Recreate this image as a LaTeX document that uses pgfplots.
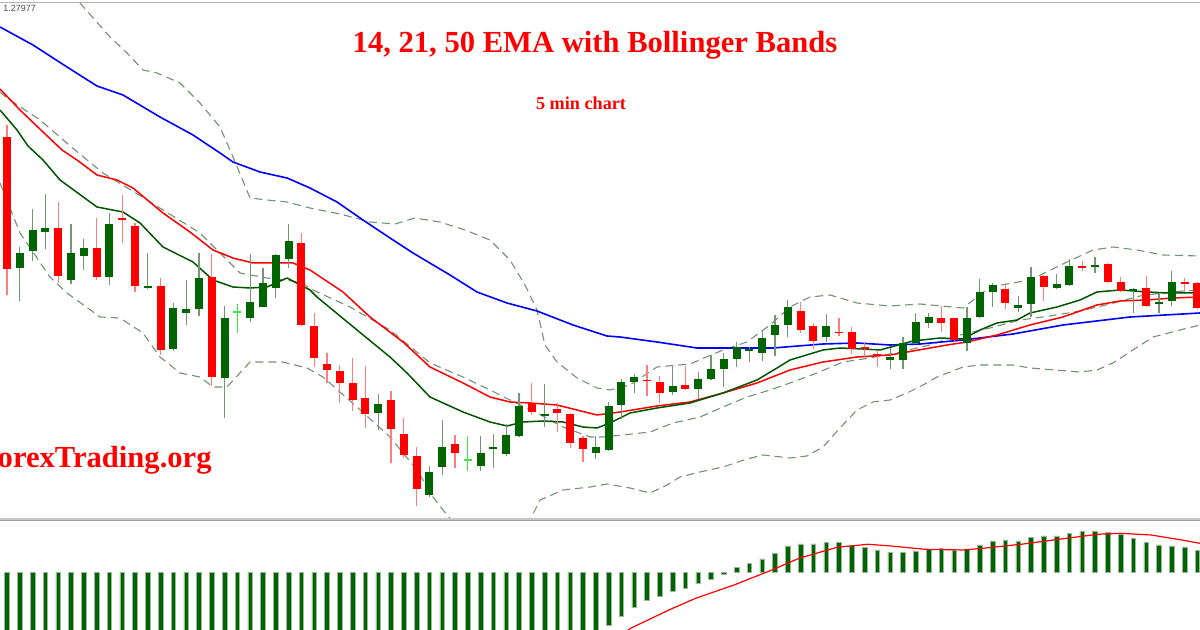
\documentclass[border=0pt]{standalone}
\usepackage{pgfplots}
\pgfplotsset{compat=1.18}
\usepackage{pgfplotstable}
\usepackage{fontspec}
\setmainfont{Liberation Serif}
\newfontfamily\labelfont{Liberation Sans}
\definecolor{bullG}{RGB}{0,100,0}
\definecolor{bearR}{RGB}{255,0,0}
\definecolor{wickG}{RGB}{115,150,115}
\definecolor{wickR}{RGB}{255,125,125}
\definecolor{band}{RGB}{115,145,115}
\definecolor{limeG}{RGB}{70,225,70}
\definecolor{emaB}{RGB}{0,0,255}
\definecolor{emaG}{RGB}{0,85,0}

% candles: x, wick top, body top, body bottom, wick bottom (pixel rows, top = 0)
\pgfplotstableread{
x wt bt bb wb
19.8 247 253 268 301
32.6 209 230 251 261
45.4 194 228 232 249
71.0 224 253 280 284
83.8 239 248 256 270
109.4 213 224 277 285
147.8 253 286 288 289
173.4 303 308 349 351
186.2 280 309 313 325
199.0 253 278 309 316
224.6 306 318 378 418
250.2 254 302 318 322
263.0 268 283 307 307
275.8 254 255 288 298
288.6 224 241 259 268
378.2 394 404 413 430
429.4 466 472 495 497
442.2 420 447 467 475
480.6 436 453 466 471
493.4 434 447.5 448.5 468
506.2 424 435 454 456
519.0 393 406 436 437
544.6 384 414 416 427
595.8 436 447 453 459
608.6 402 406 450 451
621.4 379 382 405 419
634.2 374 377 382 393
672.6 365 386 392 395
698.2 372 379 389 399
711.0 355 369 379 380
723.8 353 359 369 387
736.6 342 347 359 367
749.4 347 349 351 362
762.2 331 338 353 361
775.0 315 325 335 356
787.8 300 307 325 337
826.2 314 326 337 342
890.2 348 357 360 369
903.0 337 343 360 369
915.8 313 322 343 344
928.6 313 317 323 328
967.0 307 318 343 351
979.8 279 292 317 318
992.6 283 285 292 307
1018.2 296 305 308 312
1031.0 267 277 304 317
1056.6 274 284 288 289
1069.4 259 266 285 286
1095.0 257 265.5 266.5 273
1133.4 288 289 291 313
1159.0 293 302 304 313
1171.8 271 282 301 306
}\bull

\pgfplotstableread{
x wt bt bb wb
7.0 125 137 269 295
58.2 202 228 276 283
96.6 218 248 277 280
122.2 195 218 220 243
135.0 223 226 286 292
160.6 278 286 350 355
211.8 254 277 377 386
301.4 233 243 325 326
314.2 313 326 358 367
327.0 353 364 370 383
339.8 365 371 383 403
352.6 358 383 400 411
365.4 366 398 414 428
391.0 391 400 429 463
403.8 418 434 455 458
416.6 447 456 489 506
455.0 435 444 453 468
531.8 383 403 412 415
557.4 403 409 413 432
570.2 413 414 443 448
583.0 436 438 449 462
647.0 365 380 381 396
659.8 376 382 393 403
685.4 366 385 389 390
800.6 302 311 330 333
813.4 323 326 341 349
839.0 318 332 333 336
851.8 327 332 349 354
864.6 343 347.5 348.5 358
877.4 350 354 356 367
941.4 306 318 323 332
954.2 318 318 340 341
1005.4 283 289 303 309
1043.8 275 276 287 301
1082.2 261 266.5 267.5 271
1107.8 263 264 282 283
1120.6 277 282 291 292
1146.2 276 288 306 307
1184.6 278 282.5 283.5 292
1197.4 282 283 308 309
}\bear

\pgfplotstableread{
x wt bt bb wb
237.4 304 311.5 312.5 333
467.8 436 459.5 460.5 471
}\doji

\pgfplotstableread{
x v
7.0 -80
19.8 -82
32.6 -84
45.4 -85
58.2 -86
71.0 -87
83.8 -88
96.6 -89
109.4 -90
122.2 -91
135.0 -92
147.8 -92
160.6 -93
173.4 -94
186.2 -95
199.0 -96
211.8 -97
224.6 -98
237.4 -98
250.2 -97
263.0 -96
275.8 -95
288.6 -94
301.4 -95
314.2 -97
327.0 -99
339.8 -100
352.6 -101
365.4 -102
378.2 -102
391.0 -103
403.8 -104
416.6 -106
429.4 -105
442.2 -103
455.0 -101
467.8 -99
480.6 -97
493.4 -95
506.2 -92
519.0 -88
531.8 -85
544.6 -82
557.4 -79
570.2 -76
583.0 -72
595.8 -66
608.6 -52.3
621.4 -44
634.2 -35
647.0 -28
659.8 -24
672.6 -19
685.4 -15.6
698.2 -10.6
711.0 -6.3
723.8 -1.6
736.6 5.4
749.4 9.4
762.2 13.7
775.0 19.4
787.8 26.7
800.6 28.7
813.4 28.7
826.2 30
839.0 30
851.8 27
864.6 25
877.4 22.7
890.2 20
903.0 20
915.8 21.7
928.6 23.4
941.4 24.4
954.2 22
967.0 23.7
979.8 27.7
992.6 31.7
1005.4 32.7
1018.2 31.7
1031.0 35.4
1043.8 36.7
1056.6 36.7
1069.4 39.4
1082.2 41
1095.0 41.7
1107.8 40.4
1120.6 38.7
1133.4 34.4
1146.2 30.4
1159.0 27.7
1171.8 26.7
1184.6 25.7
1197.4 22
}\macd

\pgfplotsset{
  wicks/.style={draw=none, mark=none, forget plot,
    error bars/.cd, y dir=both, y explicit, error mark=none,
    error bar style={line width=0.6pt, draw=#1}},
  bodies/.style={draw=none, mark=none, forget plot,
    error bars/.cd, y dir=both, y explicit, error mark=none,
    error bar style={line width=4pt, draw=#1}},
  bandline/.style={band, line width=0.55pt, dash pattern=on 4pt off 2.5pt},
}

\begin{document}
\begin{tikzpicture}
\useasboundingbox (0,0) rectangle (600pt,315pt);
\begin{axis}[at={(0,55pt)}, anchor=south west, width=600pt, height=260pt,
  scale only axis, xmin=0, xmax=1200, ymin=0, ymax=520, y dir=reverse,
  hide axis, clip=true]

% Bollinger bands
\addplot[bandline] coordinates {(50,-40) (80,3) (110,37) (127,53) (143,70) (157,73) (180,83) (200,103) (220,127) (233,157) (250,198) (267,200) (287,202) (310,208) (340,214) (370,222) (395,224) (415,218) (440,222) (465,230) (490,240) (510,260) (525,285) (537,310) (545,345) (557,362) (577,378) (597,388) (610,390) (630,385) (657,367) (690,364) (723,350) (747,342) (770,325) (790,307) (810,297) (830,295) (857,303) (890,306) (920,304) (963,308) (990,287) (1030,280) (1067,262) (1093,250) (1113,247) (1137,250) (1163,255) (1200,256)};
\addplot[bandline] coordinates {(0,92) (7,98) (40,120) (75,150) (103,173) (147,200) (200,233) (217,250) (240,273) (267,278) (300,282) (313,290) (350,307) (390,330) (430,363) (463,377) (490,390) (510,400) (537,413) (563,427) (590,437) (603,437) (623,435) (650,432) (673,423) (700,417) (723,407) (747,397) (770,390) (790,383) (817,373) (843,362) (870,358) (900,352) (930,345) (960,335) (990,328) (1020,320) (1050,316) (1080,311) (1110,304) (1140,296) (1170,292) (1200,290)};
\addplot[bandline] coordinates {(0,183) (20,233) (50,277) (67,293) (100,317) (120,318) (143,333) (160,357) (180,373) (200,377) (213,387) (227,387) (250,362) (283,362) (307,368) (323,377) (357,407) (390,437) (417,470) (433,497) (443,510) (460,530) (495,540) (525,530) (540,500) (563,490) (590,487) (607,484) (630,488) (650,493) (667,485) (680,477) (700,472) (723,467) (747,459) (763,455) (790,458) (807,456) (823,447) (840,428) (857,410) (873,402) (890,400) (907,393) (923,385) (937,377) (963,367) (980,365) (1013,365) (1030,368) (1080,372) (1097,370) (1113,363) (1133,350) (1153,337) (1180,330) (1200,325)};

% EMA 50
\addplot[emaB, line width=0.8pt, line join=round] coordinates {(0,27) (33,45) (67,67) (97,86) (123,95) (160,117) (193,135) (220,153) (233,162) (260,172) (287,178) (310,188) (337,202) (363,220) (390,238) (413,253) (450,275) (477,292) (507,303) (537,311) (573,325) (607,336) (620,337) (657,342) (697,348) (730,348) (773,348) (823,344) (857,343) (890,345) (920,344) (963,340) (1013,334) (1063,325) (1130,317) (1200,313)};
% EMA 21
\addplot[bearR, line width=0.75pt, line join=round] coordinates {(0,89) (20,110) (43,132) (62,150) (77,160) (97,175) (117,180) (133,188) (163,213) (190,232) (213,250) (233,258) (253,263) (277,263) (293,263) (310,270) (343,292) (370,317) (403,342) (430,367) (463,383) (490,397) (510,402) (530,403) (557,405) (577,410) (597,415) (620,412) (657,406) (690,402) (723,393) (757,383) (790,370) (823,362) (857,357) (890,355) (913,351) (947,345) (967,342) (997,335) (1030,325) (1063,317) (1097,305) (1120,301) (1147,300) (1173,298) (1200,297)};
% EMA 14
\addplot[emaG, line width=0.75pt, line join=round] coordinates {(0,110) (17,130) (28,146) (43,160) (60,180) (97,207) (123,212) (140,223) (163,247) (193,262) (213,280) (233,287) (250,288) (267,287) (287,278) (310,290) (317,297) (357,330) (390,357) (407,373) (430,397) (463,412) (490,422) (507,426) (523,422) (543,421) (563,422) (583,427) (597,428) (610,423) (630,413) (657,408) (690,403) (723,393) (757,380) (777,368) (790,360) (823,350) (840,348) (863,349) (880,350) (913,341) (940,338) (963,339) (980,330) (997,323) (1017,320) (1030,313) (1057,307) (1080,300) (1097,292) (1120,290) (1147,292) (1167,293) (1200,293)};

% candles
\addplot[wicks=wickG] table[x=x, y expr={(\thisrow{wt}+\thisrow{wb})/2}, y error expr={(\thisrow{wb}-\thisrow{wt})/2}] {\bull};
\addplot[wicks=wickR] table[x=x, y expr={(\thisrow{wt}+\thisrow{wb})/2}, y error expr={(\thisrow{wb}-\thisrow{wt})/2}] {\bear};
\addplot[wicks=limeG] table[x=x, y expr={(\thisrow{wt}+\thisrow{wb})/2}, y error expr={(\thisrow{wb}-\thisrow{wt})/2}] {\doji};
\addplot[bodies=bullG] table[x=x, y expr={(\thisrow{bt}+\thisrow{bb})/2}, y error expr={(\thisrow{bb}-\thisrow{bt})/2}] {\bull};
\addplot[bodies=bearR] table[x=x, y expr={(\thisrow{bt}+\thisrow{bb})/2}, y error expr={(\thisrow{bb}-\thisrow{bt})/2}] {\bear};
\addplot[bodies=limeG] table[x=x, y expr={(\thisrow{bt}+\thisrow{bb})/2}, y error expr={(\thisrow{bb}-\thisrow{bt})/2}] {\doji};

\node[text=bearR, font=\bfseries\fontsize{15.3}{18}\selectfont] at (axis cs:595,45) {14, 21, 50 EMA with Bollinger Bands};
\node[text=bearR, font=\bfseries\fontsize{9.1}{11}\selectfont] at (axis cs:581,103) {5 min chart};
\node[text=bearR, font=\bfseries\fontsize{15.3}{18}\selectfont, anchor=east, inner sep=0pt] at (axis cs:212,460) {ForexTrading.org};
\node[text=black!70, font=\labelfont\fontsize{4.5}{5}\selectfont, anchor=west, inner sep=0pt] at (axis cs:3,8) {1.27977};
\end{axis}

\begin{axis}[at={(0,0)}, anchor=south west, width=600pt, height=55pt,
  scale only axis, xmin=0, xmax=1200, ymin=-57.3, ymax=52.7,
  hide axis, clip=true]
\addplot[ybar, bar width=2.3pt, bar shift=0pt, fill=bullG, draw=wickG!70, line width=0.25pt] table[x=x, y=v] {\macd};
\addplot[bearR, line width=0.6pt, line join=round] coordinates {(620,-63) (630.6,-55.6) (668.9,-37.3) (695.7,-25.6) (734,-12.3) (772,2.7) (799,14.4) (837,25.4) (868,28.4) (891,26.7) (925,23.4) (963.6,22.7) (982.7,24.4) (1021,28.4) (1059,33.4) (1097.5,38.4) (1120.5,39.4) (1151,37.7) (1181.7,32.7) (1200,29.4)};
\end{axis}

% panel frame lines
\fill[black!38] (0,54.3pt) rectangle (600pt,55.1pt);
\fill[black!22] (0,55.1pt) rectangle (600pt,55.8pt);
\fill[black!30] (0,313.4pt) rectangle (600pt,314.1pt);
\end{tikzpicture}
\end{document}
